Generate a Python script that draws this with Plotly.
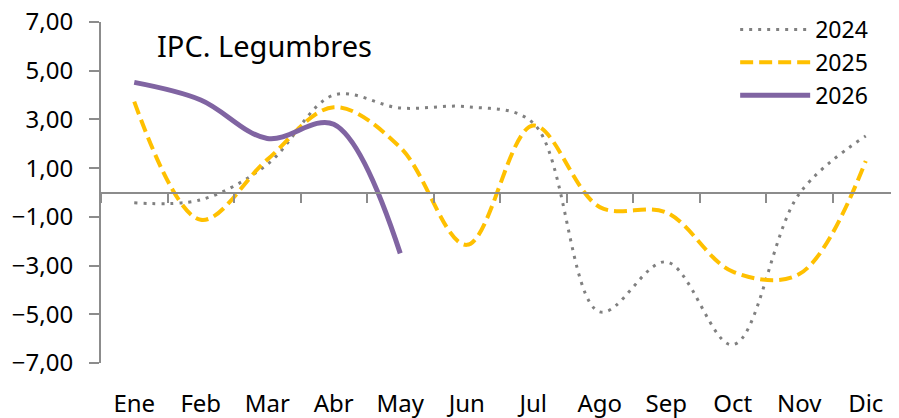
import plotly.graph_objects as go

months = ['Ene', 'Feb', 'Mar', 'Abr', 'May', 'Jun', 'Jul', 'Ago', 'Sep', 'Oct', 'Nov', 'Dic']
v2024 = [-0.42, -0.3, 1.15, 4.0, 3.47, 3.52, 2.85, -4.9, -2.85, -6.25, -0.05, 2.32]
v2025 = [3.73, -1.12, 1.35, 3.5, 1.85, -2.15, 2.75, -0.6, -0.82, -3.25, -3.35, 1.29]
v2026 = [4.52, 3.8, 2.22, 2.8, -2.5]
y_ticks = [-7, -5, -3, -1, 1, 3, 5, 7]

FONT = 'Noto Sans'
AXIS_COLOR = '#8c8c8c'

fig = go.Figure()

fig.add_trace(go.Scatter(x=months, y=v2024, name='2024', mode='lines',
                         line=dict(color='#808080', width=3, dash='3px,6px', shape='spline')))
fig.add_trace(go.Scatter(x=months, y=v2025, name='2025', mode='lines',
                         line=dict(color='#FFC000', width=4, dash='13px,6px', shape='spline')))
fig.add_trace(go.Scatter(x=months[:len(v2026)], y=v2026, name='2026', mode='lines',
                         line=dict(color='#8064A2', width=5, shape='spline')))

# dummy trace so the zero-line axis with boundary ticks gets drawn
fig.add_trace(go.Scatter(x=months, y=[None] * len(months), xaxis='x2', showlegend=False,
                         hoverinfo='skip'))

fig.add_annotation(text='IPC. Legumbres', xref='paper', yref='paper', x=0.068, y=0.93,
                   xanchor='left', yanchor='middle', showarrow=False,
                   font=dict(family=FONT, size=29, color='black'))

# page body adds an 8px margin, so the figure is a bit smaller than the window
fig.update_layout(
    width=891, height=410,
    margin=dict(l=93, r=0, t=14, b=55, autoexpand=False),
    paper_bgcolor='white', plot_bgcolor='white',
    separators=',.',
    font=dict(family=FONT, size=24, color='black'),
    showlegend=True,
    legend=dict(x=0.971, y=1.006, xref='container', yref='container',
                xanchor='right', yanchor='top', bgcolor='rgba(0,0,0,0)',
                itemwidth=70, font=dict(family=FONT, size=23), tracegroupgap=0),
    xaxis=dict(type='category', range=[-0.5, 11.5], showline=False, showgrid=False,
               zeroline=False, ticks='', ticklabelstandoff=24, automargin=False,
               ticklabeloverflow='allow'),
    xaxis2=dict(type='category', matches='x', overlaying='x', anchor='free', position=0.5,
                showline=True, linecolor=AXIS_COLOR, linewidth=2, ticks='outside',
                tickson='boundaries', ticklen=9, tickwidth=2, tickcolor=AXIS_COLOR,
                showticklabels=False, showgrid=False, zeroline=False, automargin=False),
    yaxis=dict(range=[-7, 7], tickvals=y_ticks, tickformat='.2f', showgrid=False,
               zeroline=False, showline=True, linecolor=AXIS_COLOR, linewidth=2,
               ticks='outside', ticklen=10, tickwidth=2, tickcolor=AXIS_COLOR,
               ticklabelstandoff=11, automargin=False, ticklabeloverflow='allow'),
)

fig.write_html('out.html')
